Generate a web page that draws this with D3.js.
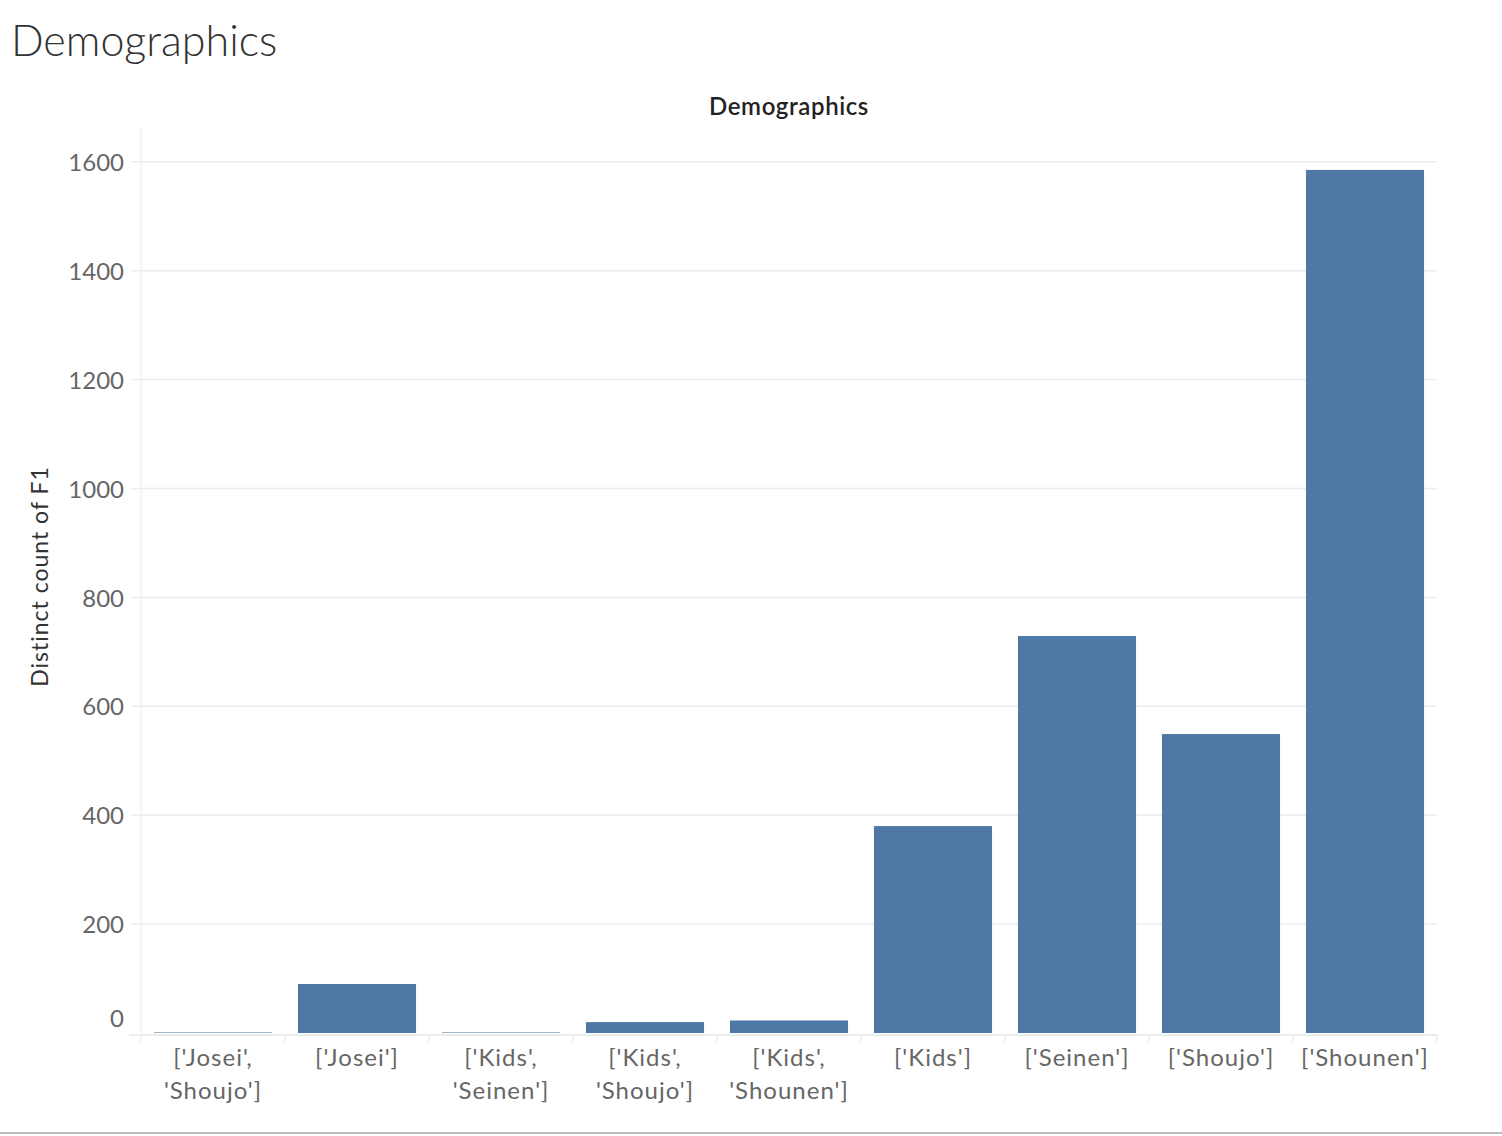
<!DOCTYPE html>
<html>
<head>
<meta charset="utf-8">
<script src="https://cdn.jsdelivr.net/npm/d3@7"></script>
<style>
	body { margin: 0; background: #fff; }
	.canvas text { font-family: Lato, 'Open Sans', sans-serif; }
</style>
</head>
<body>
<div class="canvas"></div>
<script>
// data
const categories = [
	"['Josei', 'Shoujo']", "['Josei']", "['Kids', 'Seinen']", "['Kids', 'Shoujo']",
	"['Kids', 'Shounen']", "['Kids']", "['Seinen']", "['Shoujo']", "['Shounen']"
];
const counts = [1, 90, 1, 20, 23, 380, 729, 549, 1585];
const yTicks = [0, 200, 400, 600, 800, 1000, 1200, 1400, 1600];

const data = categories.map((c, i) => ({ name: c, count: counts[i] }));

const svg = d3.select('.canvas')
	.append('svg')
	.attr('width', 1502)
	.attr('height', 1136);

// create margin and dimension
const margin = { top: 128, right: 65, bottom: 103, left: 141 };
const graphWidth = 1502 - margin.left - margin.right;
const graphHeight = 1136 - margin.top - margin.bottom;

// titles
svg.append('text')
	.attr('x', 11)
	.attr('y', 56)
	.attr('fill', '#333')
	.attr('font-size', '43px')
	.attr('font-weight', 300)
	.text('Demographics');

svg.append('text')
	.attr('x', margin.left + graphWidth / 2)
	.attr('y', 115)
	.attr('text-anchor', 'middle')
	.attr('fill', '#222')
	.attr('font-size', '24px')
	.attr('font-weight', 600)
	.attr('letter-spacing', '0.6px')
	.text('Demographics');

const graph = svg.append('g')
	.attr('transform', `translate(${margin.left},${margin.top})`);

// scales
const y = d3.scaleLinear()
	.domain([0, 1662])
	.range([graphHeight, 0]);

const x = d3.scaleBand()
	.domain(categories)
	.range([0, graphWidth])
	.paddingInner(0.18)
	.paddingOuter(0.09);

// gridlines
graph.append('g')
	.selectAll('line')
	.data(yTicks.filter(d => d > 0))
	.enter()
	.append('line')
	.attr('x1', -10)
	.attr('x2', graphWidth)
	.attr('y1', d => y(d))
	.attr('y2', d => y(d))
	.attr('stroke', '#ececec')
	.attr('stroke-width', 1.5);

// axis lines
graph.append('line')
	.attr('x1', 0).attr('x2', 0)
	.attr('y1', 0).attr('y2', graphHeight)
	.attr('stroke', '#f0f0f0')
	.attr('stroke-width', 1.5);

graph.append('line')
	.attr('x1', -12).attr('x2', graphWidth)
	.attr('y1', graphHeight + 2).attr('y2', graphHeight + 2)
	.attr('stroke', '#ececec')
	.attr('stroke-width', 2);

// y axis labels
const yAxis = d3.axisLeft(y)
	.tickValues(yTicks)
	.tickFormat(d3.format('d'))
	.tickSize(0)
	.tickPadding(17);

const yAxisGroup = graph.append('g').call(yAxis);
yAxisGroup.select('.domain').remove();
yAxisGroup.selectAll('text')
	.attr('fill', '#666')
	.attr('font-size', '24px')
	.attr('font-family', 'Lato, sans-serif')
	.attr('dy', d => d === 0 ? '-0.28em' : '0.36em');

// category separators
graph.append('g')
	.selectAll('line')
	.data(d3.range(categories.length + 1))
	.enter()
	.append('line')
	.attr('x1', i => i * x.step())
	.attr('x2', i => i * x.step())
	.attr('y1', graphHeight + 2)
	.attr('y2', graphHeight + 9)
	.attr('stroke', '#ececec')
	.attr('stroke-width', 1.5);

// bars
graph.selectAll('rect')
	.data(data)
	.enter()
	.append('rect')
	.attr('x', d => x(d.name))
	.attr('y', d => y(d.count))
	.attr('width', x.bandwidth())
	.attr('height', d => graphHeight - y(d.count))
	.attr('fill', '#4e79a7');

// x labels, wrapped on the comma
const xLabels = graph.append('g')
	.selectAll('text')
	.data(categories)
	.enter()
	.append('text')
	.attr('text-anchor', 'middle')
	.attr('fill', '#666')
	.attr('font-size', '24px')
	.attr('letter-spacing', '1px')
	.attr('transform', d => `translate(${x(d) + x.bandwidth() / 2},${graphHeight + 33})`);

xLabels.each(function (d) {
	const parts = d.split(', ');
	const t = d3.select(this);
	parts.forEach((p, i) => {
		t.append('tspan')
			.attr('x', 0)
			.attr('dy', i === 0 ? 0 : 33)
			.text(i < parts.length - 1 ? p + ',' : p);
	});
});

// y axis title
svg.append('text')
	.attr('transform', `translate(48,${margin.top + graphHeight / 2 - 4}) rotate(-90)`)
	.attr('text-anchor', 'middle')
	.attr('fill', '#333')
	.attr('font-size', '23px')
	.attr('letter-spacing', '1px')
	.text('Distinct count of F1');

// bottom border
svg.append('line')
	.attr('x1', 0).attr('x2', 1502)
	.attr('y1', 1133).attr('y2', 1133)
	.attr('stroke', '#bbb')
	.attr('stroke-width', 2);
</script>
</body>
</html>
